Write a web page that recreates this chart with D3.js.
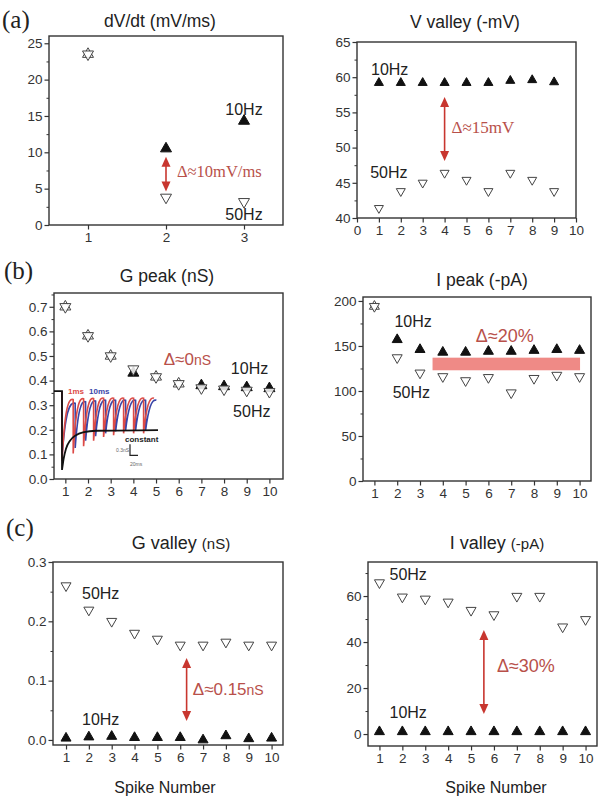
<!DOCTYPE html>
<html>
<head>
<meta charset="utf-8">
<script src="https://cdn.jsdelivr.net/npm/d3@7"></script>
<style>
  body { margin: 0; background: #fff; }
  svg { display: block; }
</style>
</head>
<body>
<div id="chart"></div>
<script>
// ---- values ----
const spikesA = [1, 2, 3];
const dvdt10Hz = [23.5, 10.5, 14.3];
const dvdt50Hz = [23.5, 3.8, 3.2];

const spikesV = [1, 2, 3, 4, 5, 6, 7, 8, 9];
const vValley10Hz = [59.2, 59.2, 59.2, 59.2, 59.2, 59.2, 59.5, 59.6, 59.3];
const vValley50Hz = [41.4, 43.8, 45.0, 46.4, 45.4, 43.8, 46.4, 45.4, 43.8];

const spikes = [1, 2, 3, 4, 5, 6, 7, 8, 9, 10];
const gPeak10Hz = [0.70, 0.582, 0.50, 0.431, 0.415, 0.387, 0.38, 0.376, 0.372, 0.368];
const gPeak50Hz = [0.70, 0.582, 0.50, 0.447, 0.415, 0.387, 0.37, 0.365, 0.36, 0.355];
const iPeak10Hz = [194, 157, 146, 143, 143, 144, 144, 145, 146, 145];
const iPeak50Hz = [194, 137, 120, 116, 111.5, 115, 98, 114, 117.5, 116];
const gValley10Hz = [0.003, 0.005, 0.006, 0.004, 0.004, 0.004, 0.0, 0.007, 0.002, 0.003];
const gValley50Hz = [0.26, 0.219, 0.20, 0.18, 0.17, 0.16, 0.16, 0.165, 0.16, 0.16];
const iValley10Hz = [1, 1, 1, 1, 1, 1, 1, 1, 1, 1];
const iValley50Hz = [65.8, 59.6, 58.7, 57.4, 53.8, 51.9, 59.9, 59.9, 46.6, 49.8];

// inset of G peak: conductance traces (ms, nS above the first trough)
const insetBlack = [[-20, 2.15], [0, 2.15], [0, 0], [4, 0.3], [10, 0.58], [20, 0.8], [35, 0.95], [55, 1.03], [85, 1.07], [240, 1.09]];
const insetRedT = [0, 28, 54, 79, 104, 129, 154, 179, 204, 230];
const insetRedPeak = [2.15, 1.92, 1.94, 1.95, 1.96, 1.96, 1.96, 1.96, 1.96, 1.96];
const insetRedTrough = [0.25, 0.45, 0.65, 0.8, 0.9, 0.95, 1.0, 1.0, 1.0, null];
const insetBlueT = [0, 33, 59, 84, 109, 134, 159, 184, 209, 236];
const insetBluePeak = [2.15, 1.82, 1.86, 1.88, 1.9, 1.9, 1.9, 1.9, 1.9, 1.9];
const insetBlueTrough = [0.35, 0.6, 0.8, 0.92, 1.0, 1.05, 1.08, 1.08, 1.08, null];

const W = 600, H = 797;
const FONT = '"Liberation Sans", Arial, sans-serif';
const SERIF = '"Liberation Serif", "Times New Roman", serif';
const INK = '#222';
const RED = '#c8362f';
const DELTA = '#b8504a';

const svg = d3.select('#chart').append('svg')
    .attr('width', W)
    .attr('height', H)
    .attr('viewBox', [0, 0, W, H]);

function triPath(w, up) {
    const h = w * 0.87;
    const p = d3.path();
    if (up) {
        p.moveTo(0, -h * 2 / 3); p.lineTo(w / 2, h / 3); p.lineTo(-w / 2, h / 3);
    } else {
        p.moveTo(0, h * 2 / 3); p.lineTo(w / 2, -h / 3); p.lineTo(-w / 2, -h / 3);
    }
    p.closePath();
    return p.toString();
}

function arrow(g, x, y1, y2) {
    g.append('line')
        .attr('x1', x).attr('x2', x)
        .attr('y1', y1 + 6).attr('y2', y2 - 6)
        .attr('stroke', RED).attr('stroke-width', 1.6);
    g.append('path').attr('d', `M${x},${y1} L${x - 4.5},${y1 + 10} L${x + 4.5},${y1 + 10} Z`).attr('fill', RED);
    g.append('path').attr('d', `M${x},${y2} L${x - 4.5},${y2 - 10} L${x + 4.5},${y2 - 10} Z`).attr('fill', RED);
}

function label(g, x, y, parts, opts = {}) {
    const t = g.append('text')
        .attr('x', x).attr('y', y)
        .attr('text-anchor', opts.anchor || 'start')
        .style('font-family', opts.family || FONT)
        .style('fill', opts.color || INK);
    parts.forEach(([s, size]) => t.append('tspan').style('font-size', size + 'px').text(s));
    return t;
}

function panel(cfg) {
    const x = d3.scaleLinear().domain(cfg.xDomain).range([cfg.box.left, cfg.box.right]);
    const y = d3.scaleLinear().domain(cfg.yDomain).range([cfg.box.bottom, cfg.box.top]);
    const g = svg.append('g');

    // minor ticks
    g.append('g')
        .attr('transform', `translate(${cfg.box.left},0)`)
        .call(d3.axisLeft(y).tickValues(cfg.yMinor).tickSize(2.5).tickFormat(''))
        .call(a => a.select('.domain').remove())
        .call(a => a.selectAll('line').attr('stroke', '#333'));

    // y axis
    g.append('g')
        .attr('transform', `translate(${cfg.box.left},0)`)
        .call(d3.axisLeft(y).tickValues(cfg.yTicks).tickSize(4.5).tickPadding(2).tickFormat(cfg.yFormat || (d => d)))
        .call(a => a.select('.domain').remove())
        .call(a => a.selectAll('line').attr('stroke', '#333').attr('stroke-width', 1.2))
        .call(a => a.selectAll('text').style('font-family', FONT).style('font-size', '13.5px').style('fill', '#333'));

    // x axis
    g.append('g')
        .attr('transform', `translate(0,${cfg.box.bottom})`)
        .call(d3.axisBottom(x).tickValues(cfg.xTicks).tickSize(4.5).tickPadding(3).tickFormat(d => d))
        .call(a => a.select('.domain').remove())
        .call(a => a.selectAll('line').attr('stroke', '#333').attr('stroke-width', 1.2))
        .call(a => a.selectAll('text').style('font-family', FONT).style('font-size', '13.5px').style('fill', '#333'));

    // frame
    g.append('rect')
        .attr('x', cfg.box.left).attr('y', cfg.box.top)
        .attr('width', cfg.box.right - cfg.box.left)
        .attr('height', cfg.box.bottom - cfg.box.top)
        .attr('fill', 'none').attr('stroke', '#333').attr('stroke-width', 1.4);

    // title
    label(svg, cfg.title.x, cfg.title.y, cfg.title.parts, { anchor: 'middle' });

    if (cfg.before) cfg.before(g, x, y);

    const w = cfg.marker || 10;
    // 10 Hz: filled up triangles (open where both series coincide)
    g.append('g').selectAll('path')
        .data(cfg.xs.map((s, i) => ({ s, v: cfg.v10[i], same: cfg.v10[i] === cfg.v50[i] })))
        .join('path')
        .attr('d', triPath(w, true))
        .attr('transform', d => `translate(${x(d.s)},${y(d.v)})`)
        .attr('fill', d => d.same ? '#fff' : '#111')
        .attr('stroke', d => d.same ? '#444' : '#111')
        .attr('stroke-width', 1);
    // 50 Hz: open down triangles
    g.append('g').selectAll('path')
        .data(cfg.xs.map((s, i) => ({ s, v: cfg.v50[i] })))
        .join('path')
        .attr('d', triPath(w, false))
        .attr('transform', d => `translate(${x(d.s)},${y(d.v)})`)
        .attr('fill', '#fff')
        .attr('fill-opacity', 0.85)
        .attr('stroke', '#444')
        .attr('stroke-width', 1);

    if (cfg.after) cfg.after(g, x, y);
}

// (a) dV/dt
panel({
    box: { left: 49, right: 283, top: 36, bottom: 225 },
    xDomain: [0.5, 3.5], yDomain: [0, 26],
    xTicks: [1, 2, 3], yTicks: [0, 5, 10, 15, 20, 25], yMinor: [2.5, 7.5, 12.5, 17.5, 22.5],
    title: { x: 160, y: 27, parts: [['dV/dt (mV/ms)', 17.5]] },
    xs: spikesA, v10: dvdt10Hz, v50: dvdt50Hz, marker: 11,
    after(g, x, y) {
        label(g, x(3), y(15.1), [['10Hz', 16]], { anchor: 'middle' });
        label(g, x(3), y(0.7), [['50Hz', 16]], { anchor: 'middle' });
        arrow(g, x(2), y(9.4), y(4.6));
        label(g, x(2.14), y(6.6), [['Δ≈10mV/ms', 16.5]], { family: SERIF, color: DELTA });
    }
});

// V valley
panel({
    box: { left: 357, right: 576, top: 42, bottom: 218 },
    xDomain: [0, 10], yDomain: [40, 65],
    xTicks: d3.range(0, 11), yTicks: [40, 45, 50, 55, 60, 65], yMinor: [42.5, 47.5, 52.5, 57.5, 62.5],
    title: { x: 465, y: 28, parts: [['V valley (-mV)', 17.5]] },
    xs: spikesV, v10: vValley10Hz, v50: vValley50Hz, marker: 9,
    after(g, x, y) {
        label(g, x(0.64), y(60.3), [['10Hz', 16]]);
        label(g, x(0.6), y(45.7), [['50Hz', 16]]);
        arrow(g, x(4), y(57.2), y(48.1));
        label(g, x(4.32), y(52.1), [['Δ≈15mV', 17]], { family: SERIF, color: DELTA });
    }
});

// (b) G peak, with the inset of conductance traces
panel({
    box: { left: 54, right: 283, top: 293, bottom: 479 },
    xDomain: [0.5, 10.6], yDomain: [0, 0.756],
    xTicks: spikes, yTicks: [0, 0.1, 0.2, 0.3, 0.4, 0.5, 0.6, 0.7],
    yMinor: [0.05, 0.15, 0.25, 0.35, 0.45, 0.55, 0.65, 0.75],
    yFormat: d3.format('.1f'),
    title: { x: 167, y: 282, parts: [['G peak (nS)', 17.5]] },
    xs: spikes, v10: gPeak10Hz, v50: gPeak50Hz, marker: 11,
    before(g) {
        const tx = d3.scaleLinear().domain([0, 20]).range([62, 70]);
        const ty = d3.scaleLinear().domain([0, 0.3]).range([470, 459]);
        const ins = g.append('g');
        function sawtooth(ts, peaks, troughs, color) {
            const p = d3.path();
            p.moveTo(tx(ts[0]), ty(peaks[0]));
            ts.forEach((t, i) => {
                if (troughs[i] == null) return;
                p.lineTo(tx(t), ty(troughs[i]));
                const t2 = ts[i + 1];
                p.bezierCurveTo(tx(t + (t2 - t) * 0.25), ty(peaks[i + 1] - 0.25),
                    tx(t + (t2 - t) * 0.55), ty(peaks[i + 1] + 0.05),
                    tx(t2), ty(peaks[i + 1]));
            });
            ins.append('path').attr('d', p.toString())
                .attr('fill', 'none').attr('stroke', color).attr('stroke-width', 1.6);
        }
        sawtooth(insetBlueT, insetBluePeak, insetBlueTrough, '#3a46a8');
        sawtooth(insetRedT, insetRedPeak, insetRedTrough, '#dc4a46');
        ins.append('path')
            .attr('d', d3.line().x(d => tx(d[0])).y(d => ty(d[1]))
                .curve(d3.curveMonotoneX)(insetBlack.slice(2)) +
                d3.line().x(d => tx(d[0])).y(d => ty(d[1]))(insetBlack.slice(0, 3)))
            .attr('fill', 'none').attr('stroke', '#111').attr('stroke-width', 1.8);
        label(ins, 68, 394, [['1ms', 8]], { color: '#dc4a46' }).style('font-weight', 'bold');
        label(ins, 89, 394, [['10ms', 8]], { color: '#3a46a8' }).style('font-weight', 'bold');
        label(ins, 125, 442, [['constant', 8]], { color: '#222' }).style('font-weight', 'bold');
        // scale bar 0.3 nS / 20 ms
        ins.append('path')
            .attr('d', `M${tx(170)},${ty(0.7)} V${ty(0.4)} H${tx(190)}`)
            .attr('fill', 'none').attr('stroke', '#222').attr('stroke-width', 1.2);
        label(ins, tx(168), ty(0.5), [['0.3nS', 5]], { anchor: 'end', color: '#666' });
        label(ins, tx(170), ty(0.12), [['20ms', 5]], { color: '#666' });
    },
    after(g, x, y) {
        label(g, x(5.34), y(0.464), [['Δ≈0', 17], ['nS', 14]], { color: DELTA });
        label(g, x(8.3), y(0.427), [['10Hz', 16]]);
        label(g, x(8.4), y(0.252), [['50Hz', 16]]);
    }
});

// I peak
panel({
    box: { left: 363, right: 591, top: 297, bottom: 481 },
    xDomain: [0.5, 10.5], yDomain: [0, 204.4],
    xTicks: spikes, yTicks: [0, 50, 100, 150, 200], yMinor: [25, 75, 125, 175],
    title: { x: 482, y: 286, parts: [['I peak (-pA)', 17.5]] },
    xs: spikes, v10: iPeak10Hz, v50: iPeak50Hz, marker: 10,
    before(g, x, y) {
        g.append('rect')
            .attr('x', x(3.55)).attr('y', y(137))
            .attr('width', x(10.02) - x(3.55)).attr('height', y(123) - y(137))
            .attr('fill', '#ef8a86');
    },
    after(g, x, y) {
        label(g, x(1.88), y(171), [['10Hz', 16]]);
        label(g, x(1.8), y(92), [['50Hz', 16]]);
        label(g, x(5.45), y(154.5), [['Δ≈20%', 18]], { color: DELTA });
    }
});

// (c) G valley
panel({
    box: { left: 53, right: 283, top: 562, bottom: 745 },
    xDomain: [0.43, 10.5], yDomain: [-0.0085, 0.3],
    xTicks: spikes, yTicks: [0, 0.1, 0.2, 0.3], yMinor: [0.05, 0.15, 0.25],
    yFormat: d3.format('.1f'),
    title: { x: 181, y: 549, parts: [['G valley ', 18], ['(nS)', 15]] },
    xs: spikes, v10: gValley10Hz, v50: gValley50Hz, marker: 10,
    after(g, x, y) {
        label(g, x(1.7), y(0.238), [['50Hz', 16]]);
        label(g, x(1.7), y(0.025), [['10Hz', 16]]);
        arrow(g, x(6.28), y(0.138), y(0.032));
        label(g, x(6.55), y(0.076), [['Δ≈0.15', 17], ['nS', 14]], { color: DELTA });
    }
});

// I valley
panel({
    box: { left: 368, right: 597, top: 562, bottom: 746 },
    xDomain: [0.5, 10.5], yDomain: [-5.2, 74.8],
    xTicks: spikes, yTicks: [0, 20, 40, 60], yMinor: [10, 30, 50, 70],
    title: { x: 497, y: 549, parts: [['I valley ', 18], ['(-pA)', 15]] },
    xs: spikes, v10: iValley10Hz, v50: iValley50Hz, marker: 10,
    after(g, x, y) {
        label(g, x(1.44), y(67), [['50Hz', 16]]);
        label(g, x(1.44), y(7), [['10Hz', 16]]);
        arrow(g, x(5.56), y(45.2), y(8.7));
        label(g, x(6.13), y(27), [['Δ≈30%', 18]], { color: DELTA });
    }
});

// panel letters and shared axis titles
label(svg, 2, 28, [['(a)', 25]], { family: SERIF });
label(svg, 4, 279, [['(b)', 25]], { family: SERIF });
label(svg, 6, 536, [['(c)', 25]], { family: SERIF });
label(svg, 165, 793, [['Spike Number', 16]], { anchor: 'middle' });
label(svg, 496, 793, [['Spike Number', 16]], { anchor: 'middle' });
</script>
</body>
</html>
